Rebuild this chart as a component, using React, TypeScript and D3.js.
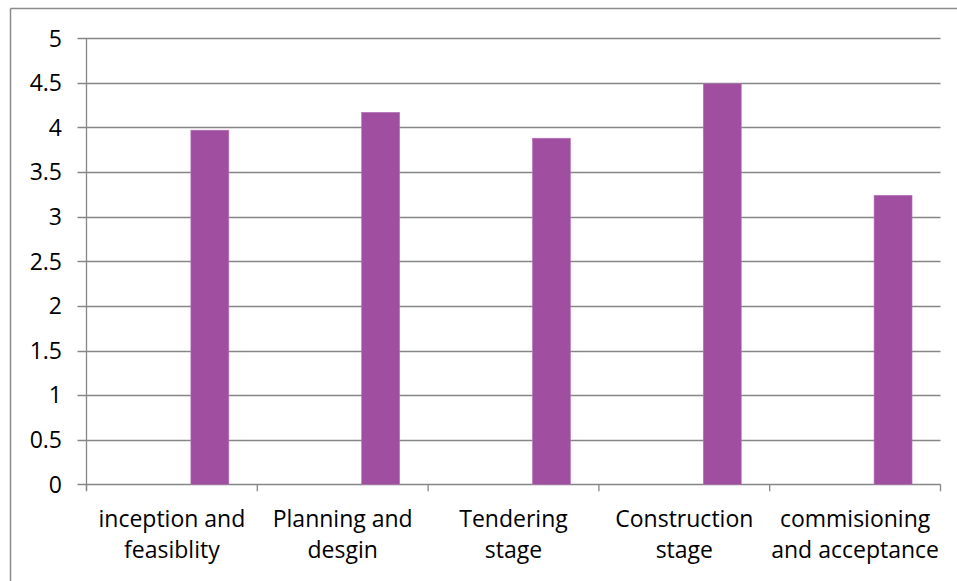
import React from "react";
import * as d3 from "d3";

const categories = [
  ["inception and", "feasiblity"],
  ["Planning and", "desgin"],
  ["Tendering", "stage"],
  ["Construction", "stage"],
  ["commisioning", "and acceptance"],
];
const values = [3.97, 4.17, 3.88, 4.49, 3.24];
const seriesSlots = ["s1", "s2", "s3"];
const activeSlot = "s3";
const yTicks = [0, 0.5, 1, 1.5, 2, 2.5, 3, 3.5, 4, 4.5, 5];

const W = 957;
const H = 581;
const left = 86.5;
const right = 940.5;
const top = 38.3;
const bottom = 484.3;
const FONT = "'Open Sans', 'Noto Sans', sans-serif";
const FS = 23;

export default function App() {
  const keys = categories.map((c) => c.join(" "));
  const x = d3.scaleBand<string>().domain(keys).range([left, right]).paddingInner(0).paddingOuter(0);
  const bw = x.bandwidth();
  // Excel gap width 150% with three series slots
  const gap = bw * (1.5 / 4.5);
  const xs = d3
    .scaleBand<string>()
    .domain(seriesSlots)
    .range([gap / 2, bw - gap / 2])
    .padding(0);
  const y = d3.scaleLinear().domain([0, 5]).range([bottom, top]);
  const tickXs = [...keys.map((k) => x(k)!), right];

  return (
    <svg
      width={W}
      height={H}
      style={{ position: "absolute", left: 0, top: 0, background: "#fff" }}
    >
      <rect x={0} y={0} width={W} height={H} fill="#fff" />
      {/* outer chart border */}
      <line x1={10.5} y1={8.5} x2={W} y2={8.5} stroke="#8c8c8c" strokeWidth={1.5} />
      <line x1={10.5} y1={8.5} x2={10.5} y2={H} stroke="#8c8c8c" strokeWidth={1.5} />

      {/* gridlines */}
      {yTicks.map((t) => (
        <line
          key={t}
          x1={left - 9}
          x2={right}
          y1={Math.round(y(t)) + 0.5}
          y2={Math.round(y(t)) + 0.5}
          stroke="#868686"
          strokeWidth={1.3}
        />
      ))}
      {/* y axis */}
      <line x1={left} x2={left} y1={top} y2={bottom + 6} stroke="#868686" strokeWidth={1.3} />
      {/* x tick marks */}
      {tickXs.map((tx, i) => (
        <line
          key={i}
          x1={tx}
          x2={tx}
          y1={bottom}
          y2={bottom + 7}
          stroke="#868686"
          strokeWidth={1.3}
        />
      ))}

      {/* bars */}
      {values.map((v, i) => (
        <rect
          key={i}
          x={x(keys[i])! + xs(activeSlot)!}
          y={y(v)}
          width={xs.bandwidth()}
          height={y(0) - y(v)}
          fill="#A04EA0"
          stroke="#b474b4"
          strokeWidth={0.6}
        />
      ))}

      {/* y tick labels */}
      {yTicks.map((t) => (
        <text
          key={t}
          x={62}
          y={y(t)}
          dy="0.36em"
          textAnchor="end"
          fontFamily={FONT}
          fontSize={FS}
          fill="#000"
        >
          {String(t)}
        </text>
      ))}

      {/* category labels */}
      {categories.map((lines, i) => (
        <text
          key={i}
          x={x(keys[i])! + bw / 2}
          textAnchor="middle"
          fontFamily={FONT}
          fontSize={FS}
          fill="#000"
        >
          {lines.map((ln, j) => (
            <tspan key={j} x={x(keys[i])! + bw / 2} y={527 + j * 31}>
              {ln}
            </tspan>
          ))}
        </text>
      ))}
    </svg>
  );
}
